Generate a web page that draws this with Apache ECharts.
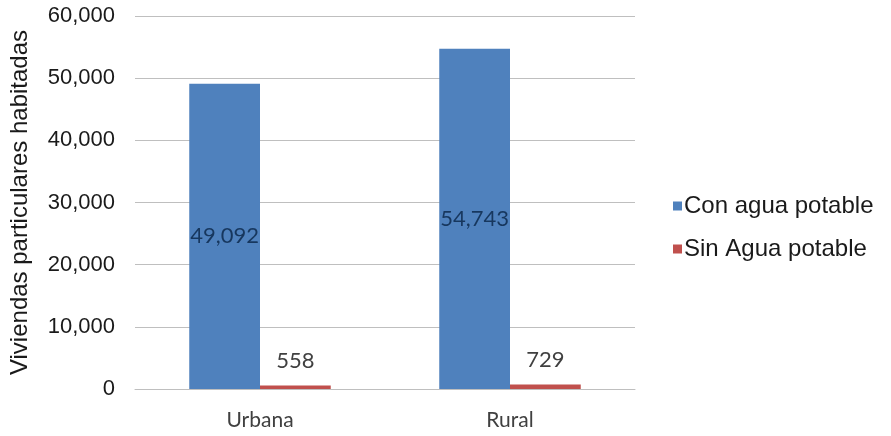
<!DOCTYPE html>
<html>
<head>
<meta charset="utf-8">
<script src="https://cdn.jsdelivr.net/npm/echarts@6/dist/echarts.min.js"></script>
<style>
  html, body { margin: 0; padding: 0; background: #fff; }
  #chart { width: 891px; height: 436px; }
</style>
</head>
<body>
<div id="chart"></div>
<script>
// Viviendas particulares habitadas, por tipo de localidad
const categories = ['Urbana', 'Rural'];
const conAgua = [49092, 54743];
const sinAgua = [558, 729];
const seriesNames = ['Con agua potable', 'Sin Agua potable'];
const yTicks = { min: 0, max: 60000, interval: 10000 };

const fmt = v => v.toLocaleString('en-US');
const chart = echarts.init(document.getElementById('chart'));

chart.setOption({
  animation: false,
  backgroundColor: '#ffffff',
  grid: { left: 130, right: 256, top: 16, bottom: 47, containLabel: false },
  legend: {
    orient: 'vertical',
    left: 668,
    top: 189,
    itemWidth: 9,
    itemHeight: 9,
    itemGap: 19,
    icon: 'rect',
    textStyle: { fontFamily: 'Liberation Sans, Arial, sans-serif', fontSize: 24, color: '#1a1a1a', padding: [0, 0, 0, -3] },
    data: seriesNames
  },
  xAxis: {
    type: 'category',
    data: categories,
    axisTick: { show: false },
    axisLine: { lineStyle: { color: '#bfbfbf', width: 1 } },
    axisLabel: { fontFamily: 'Lato, sans-serif', fontSize: 21, color: '#404040', margin: 21 }
  },
  yAxis: {
    type: 'value',
    min: yTicks.min,
    max: yTicks.max,
    interval: yTicks.interval,
    name: 'Viviendas particulares habitadas',
    nameLocation: 'middle',
    nameGap: 103,
    nameTextStyle: { fontFamily: 'Liberation Sans, Arial, sans-serif', fontSize: 24, color: '#1a1a1a' },
    axisLine: { show: false },
    axisTick: { show: false },
    splitLine: { lineStyle: { color: '#bfbfbf', width: 1 } },
    axisLabel: {
      fontFamily: 'Liberation Sans, Arial, sans-serif', fontSize: 22, color: '#1a1a1a', margin: 20,
      formatter: v => fmt(v)
    }
  },
  series: [
    {
      name: seriesNames[0],
      type: 'bar',
      data: conAgua,
      barWidth: '28.3%',
      barGap: '0%',
      itemStyle: { color: '#4f81bd' },
      label: {
        show: true, position: 'inside',
        fontFamily: 'Lato, sans-serif', fontSize: 22, color: '#17375e',
        formatter: p => fmt(p.value)
      }
    },
    {
      name: seriesNames[1],
      type: 'bar',
      data: sinAgua,
      barWidth: '28.3%',
      itemStyle: { color: '#c0504d' },
      label: {
        show: true, position: 'top', distance: 14,
        fontFamily: 'Lato, sans-serif', fontSize: 22, color: '#404040',
        formatter: p => fmt(p.value)
      }
    }
  ]
});
</script>
</body>
</html>
